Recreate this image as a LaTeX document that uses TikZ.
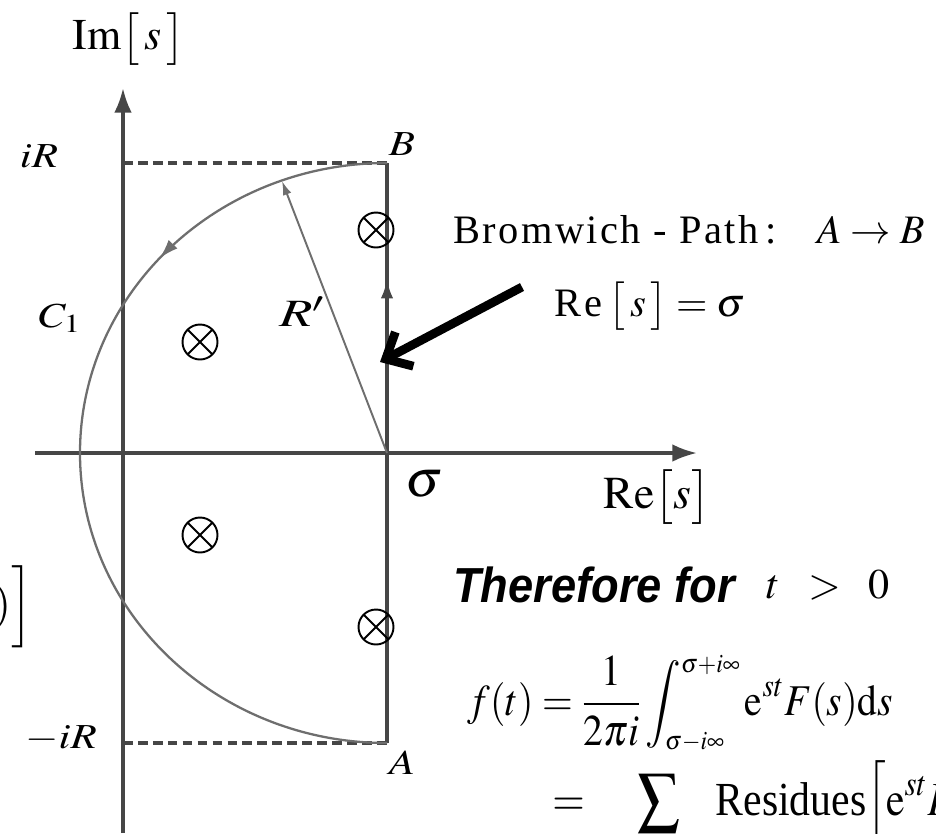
\documentclass[tikz,border=0pt]{standalone}
\usepackage{amsmath}
\usepackage{mathptmx}
\usepackage[no-math]{fontspec}
\setmainfont{Liberation Serif}
\setsansfont{Liberation Sans}
\usepackage{tikz}
\usepackage{xcolor}
\definecolor{axisgray}{RGB}{70, 70, 70}
\definecolor{arcgray}{RGB}{110, 110, 110}
\usetikzlibrary{arrows.meta,decorations.markings,positioning}

\begin{document}
\begin{tikzpicture}[x=0.02cm, y=-0.02cm,
    axis/.style={axisgray, line width=1.9pt, -{Latex[length=14pt,width=10pt]}},
    rim/.style={axisgray, line width=2.2pt, dash pattern=on 5.5pt off 3pt},
    pole/.style={circle, draw, line width=1.1pt, minimum size=0.7cm, inner sep=0pt,
        path picture={\draw[line width=1.1pt]
            (path picture bounding box.center) ++(45:0.35cm) -- ++(225:0.7cm)
            (path picture bounding box.center) ++(135:0.35cm) -- ++(315:0.7cm);}},
    lbl/.style={font=\fontsize{20}{23}\selectfont, xscale=1.22, inner sep=0pt},
    midarrow/.style={postaction={decorate}, decoration={markings,
        mark=at position #1 with {\arrow{Latex[length=11pt,width=7pt]}}}},
    ]
    \useasboundingbox (0,0) rectangle (936,833);
    \clip (0,0) rectangle (936,833);

    % Points of the contour
    \coordinate (O) at (387,453);
    \coordinate (B) at (387,163);
    \coordinate (A) at (387,743);
    \coordinate (iRpt) at (123,163);
    \coordinate (miRpt) at (123,743);
    \coordinate (Rtip) at (282,181);

    % Axes
    \coordinate (xstart) at (35,453);
    \coordinate (xend) at (697,453);
    \coordinate (ystart) at (123,833);
    \coordinate (yend) at (123,88);
    \draw[axis] (xstart) -- (xend);
    \draw[axis] (ystart) -- (yend);

    % Dashed limits at +iR and -iR
    \draw[rim] (iRpt) -- (B);
    \draw[rim] (miRpt) -- (A);

    % Bromwich line A -> B
    \draw[axisgray, line width=1.9pt, midarrow=0.8] (A) -- (B);

    % Closing arc C1
    \draw[arcgray, line width=1.3pt, midarrow=0.27]
        (B) arc[start angle=270, end angle=90, x radius=307, y radius=290];

    % Radius
    \draw[arcgray, line width=1.1pt, -{Latex[length=8pt,width=5pt]}] (O) -- (Rtip);

    % Poles
    \node[pole] (p1) at (376,230) {};
    \node[pole] (p2) at (200,342) {};
    \node[pole] (p3) at (200,535) {};
    \node[pole] (p4) at (376,627) {};

    % Labels of the contour
    \node[lbl] (iRlbl) at (39,156) {$iR$};
    \node[lbl] (miRlbl) at (61,739) {$-iR$};
    \node[lbl] (Blbl) at (402,144) {$B$};
    \node[lbl] (Albl) at (402,763) {$A$};
    \node[lbl] (C1lbl) at (60,318) {$C_1$};
    \node[lbl, font=\fontsize{22}{25}\selectfont, xscale=1.15] (Rlbl) at (302,312) {$R'$};
    \node[inner sep=0pt, font=\fontsize{30}{34}\selectfont] (sigmalbl) at (424,484) {$\sigma$};

    % Axis names
    \node[inner sep=0pt, font=\fontsize{25}{30}\selectfont] (imlbl) at (129,39) {$\mathrm{Im}\bigl[\,s\,\bigr]$};
    \node[inner sep=0pt, font=\fontsize{26}{30}\selectfont] (relbl) at (657,497) {$\mathrm{Re}\bigl[s\bigr]$};

    % Bromwich annotation
    \node[inner sep=0pt, font=\fontsize{23}{28}\selectfont] (bromwich) at (689,230)
        {\addfontfeature{LetterSpace=6}Bromwich - Path\,:\quad $A\rightarrow B$};
    \node[inner sep=0pt, font=\fontsize{23}{28}\selectfont] (reline) at (650,306)
        {\addfontfeature{LetterSpace=6}Re\,$\bigl[\,s\,\bigr]=\sigma$};
    \coordinate (arrstart) at (522,287);
    \coordinate (arrend) at (380,362);
    \draw[line width=5pt, -{Straight Barb[length=12pt,width=22pt]}] (arrstart) -- (arrend);

    % Inversion formula
    \node[anchor=west, inner sep=0pt, xscale=0.92, font=\fontsize{28}{32}\selectfont\sffamily\bfseries\itshape]
        (therefore) at (453,585) {Therefore for};
    \node[anchor=west, inner sep=0pt, font=\fontsize{24}{28}\selectfont] (tpos) at (766,585) {$t\;\;>\;\;0$};
    \node[anchor=base west, inner sep=0pt, xscale=0.9, font=\fontsize{25}{28}\selectfont] (fdef) at (467,715)
        {$\displaystyle f(t)=\frac{1}{2\pi i}\int_{\scriptscriptstyle\sigma-i\infty}^{\scriptscriptstyle\sigma+i\infty}\mathrm{e}^{st}F(s)\mathrm{d}s$};
    \node[anchor=base west, inner sep=0pt, xscale=0.88, font=\fontsize{27}{30}\selectfont] (fsum) at (552,815)
        {$\displaystyle =\hspace{28pt}\sum\limits_{\makebox[0pt]{$\scriptstyle\text{all poles of }F$}}\hspace{20pt}\text{Residues}\Bigl[\mathrm{e}^{st}F(s)\Bigr]$};
    \node[anchor=east, inner sep=0pt, font=\fontsize{26}{30}\selectfont] (leftfrag) at (33,607)
        {$F(t)\Bigr]$};
\end{tikzpicture}
\end{document}
